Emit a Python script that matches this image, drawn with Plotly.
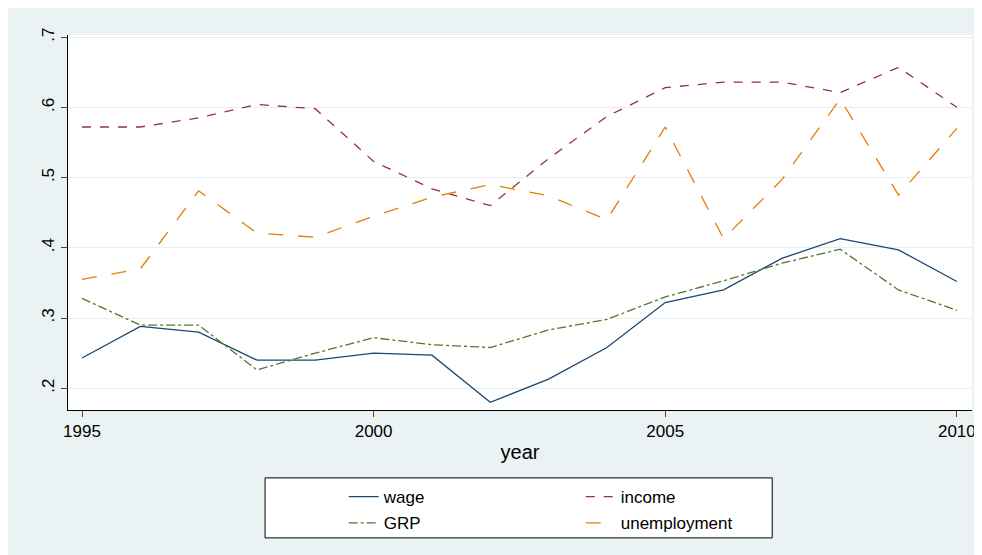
import plotly.graph_objects as go

years = list(range(1995, 2011))
wage = [.243,.288,.280,.240,.240,.250,.247,.180,.213,.258,.322,.340,.385,.413,.397,.352]
income = [.572,.572,.585,.604,.598,.523,.484,.460,.527,.587,.628,.636,.636,.621,.657,.600]
grp = [.328,.290,.290,.226,.250,.272,.262,.258,.283,.298,.330,.353,.378,.398,.340,.311]
unemployment = [.355,.370,.481,.421,.415,.445,.472,.490,.474,.440,.572,.413,.497,.612,.475,.570]

fig = go.Figure()
series = [("wage", wage, "#1a476f", "solid", "legend"),
          ("income", income, "#90353b", "dash", "legend"),
          ("GRP", grp, "#55752f", "dashdot", "legend2"),
          ("unemployment", unemployment, "#e37e00", "longdash", "legend2")]
for name, vals, col, dash, lg in series:
    fig.add_trace(go.Scatter(x=years, y=vals, name=name, mode="lines", legend=lg,
                             line=dict(color=col, width=1.3, dash=dash)))

common = dict(orientation="h", x=0.305, xanchor="left", yanchor="top",
              bgcolor="rgba(0,0,0,0)", borderwidth=0,
              entrywidth=192, entrywidthmode="pixels", traceorder="normal",
              font=dict(size=17))
fig.update_layout(
    width=982, height=555,
    paper_bgcolor="#eaf2f3", plot_bgcolor="white",
    margin=dict(l=60, r=18, t=27, b=153),
    font=dict(family="Liberation Sans, Arial", size=17, color="black"),
    showlegend=True,
    legend=dict(y=-0.184, **common),
    legend2=dict(y=-0.254, **common),
    shapes=[dict(type="rect", xref="paper", yref="paper", x0=0.218, x1=0.779,
                 y0=-0.181, y1=-0.341, line=dict(color="black", width=1),
                 fillcolor="white", layer="below")],
    xaxis=dict(range=[1994.76, 2010.26], tickvals=[1995, 2000, 2005, 2010],
               showgrid=False, showline=True, linecolor="black", ticks="outside",
               ticklen=6, zeroline=False, automargin=False,
               title=dict(text="year", standoff=4)),
    yaxis=dict(range=[0.169, 0.703], tickvals=[.2, .3, .4, .5, .6, .7],
               ticktext=[".2", ".3", ".4", ".5", ".6", ".7"], tickangle=-90,
               showgrid=True, gridcolor="#e8eef0", showline=True, linecolor="black",
               ticks="outside", ticklen=6, zeroline=False, automargin=False),
)
fig.write_html("out.html")
